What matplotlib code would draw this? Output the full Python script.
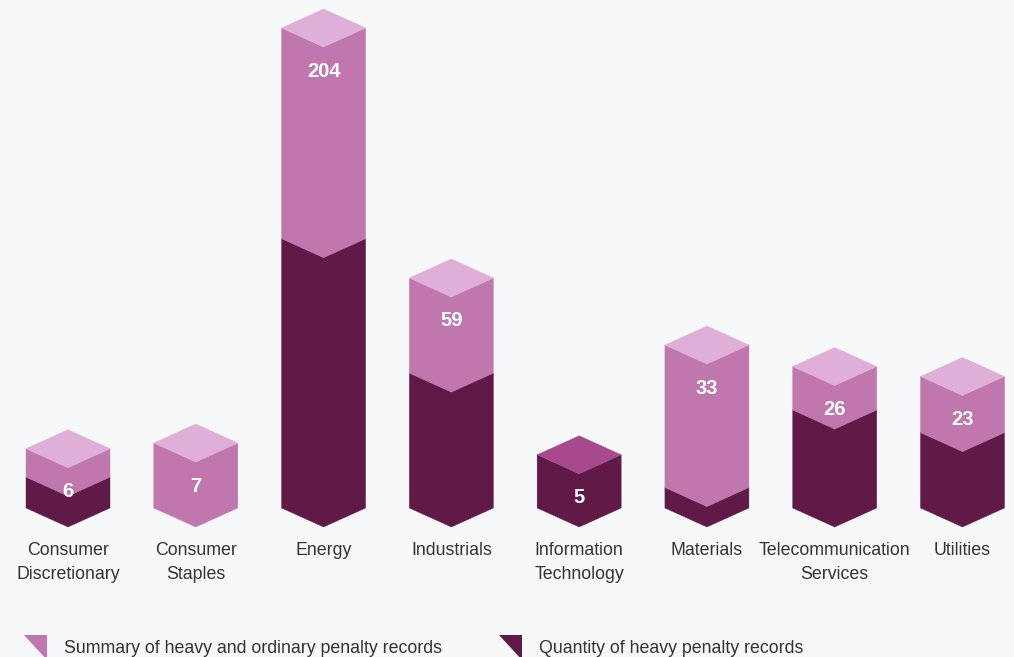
import numpy as np
import matplotlib
matplotlib.use("Agg")
import matplotlib.pyplot as plt
from matplotlib.patches import Polygon
from matplotlib.transforms import IdentityTransform

# ---- data -------------------------------------------------------------
sectors = ["Consumer\nDiscretionary", "Consumer\nStaples", "Energy", "Industrials",
           "Information\nTechnology", "Materials", "Telecommunication\nServices", "Utilities"]
total_records = [6, 7, 204, 59, 5, 33, 26, 23]      # heavy + ordinary
heavy_records = [2, 0, 77, 24, 5, 1, 14, 9]         # heavy only
legend_labels = ["Summary of heavy and ordinary penalty records",
                 "Quantity of heavy penalty records"]

# ---- style ------------------------------------------------------------
BG = "#F7F8FA"
TEXT = "#333333"
LIGHT_FACE, LIGHT_TOP = "#C077AE", "#E0AFD7"
DARK_FACE, DARK_TOP = "#5F1A47", "#A8488D"
plt.rcParams["font.family"] = ["Liberation Sans", "DejaVu Sans"]

W, H, DPI = 1014, 657, 100
HALF_W, SKEW = 42, 19          # prism half width and top-diamond half height (px)
BASE_PX = 130                  # baseline height above figure bottom (px)
TALLEST_PX = 480               # front-edge height of the tallest prism (px)
EXP = 0.593                    # power scale exponent


def forward(v):
    v = np.asarray(v, dtype=float)
    return np.sign(v) * np.abs(v) ** EXP


def inverse(v):
    v = np.asarray(v, dtype=float)
    return np.sign(v) * np.abs(v) ** (1.0 / EXP)


fig = plt.figure(figsize=(W / DPI, H / DPI), dpi=DPI)
fig.patch.set_facecolor(BG)

ax = fig.add_axes([0, BASE_PX / H, 1, (H - BASE_PX) / H])
ax.set_yscale("function", functions=(forward, inverse))
n = len(sectors)
step = (962.5 - 68) / (n - 1)
ax.set_xlim(-68 / step, (W - 68) / step)
ymax = max(total_records) * ((H - BASE_PX) / TALLEST_PX) ** (1.0 / EXP)
ax.set_ylim(0, ymax)
ax.axis("off")

to_px = ax.transData.transform


def add_poly(verts, color):
    ax.add_patch(Polygon(verts, closed=True, facecolor=color, edgecolor=color,
                         linewidth=0.3, transform=IdentityTransform(),
                         clip_on=False, zorder=1))


def prism_side(cx, lo, hi, color):
    add_poly([(cx - HALF_W, lo + SKEW), (cx, lo), (cx + HALF_W, lo + SKEW),
              (cx + HALF_W, hi + SKEW), (cx, hi), (cx - HALF_W, hi + SKEW)], color)


def prism_top(cx, top, color):
    add_poly([(cx, top), (cx + HALF_W, top + SKEW), (cx, top + 2 * SKEW),
              (cx - HALF_W, top + SKEW)], color)


for i, (name, tot, heavy) in enumerate(zip(sectors, total_records, heavy_records)):
    cx, y0 = to_px((i, 0))
    _, yh = to_px((i, heavy))
    _, yt = to_px((i, tot))
    if heavy > 0:
        prism_side(cx, y0, yh, DARK_FACE)
    if tot > heavy:
        prism_side(cx, yh, yt, LIGHT_FACE)
    prism_top(cx, yt, LIGHT_TOP if tot > heavy else DARK_TOP)

    ax.annotate(str(tot), (i, tot), xytext=(0, -24), textcoords="offset pixels",
                ha="center", va="center", color="white", fontsize=14.5,
                fontweight="bold", zorder=5, annotation_clip=False)
    ax.annotate(name, (i, 0), xytext=(0, -15), textcoords="offset pixels",
                ha="center", va="top", color=TEXT, fontsize=12.8,
                linespacing=1.55, annotation_clip=False)

# ---- legend -----------------------------------------------------------
for x0, label, color in [(24, legend_labels[0], LIGHT_FACE),
                         (499, legend_labels[1], DARK_FACE)]:
    tri = [(x0, H - 635), (x0 + 23, H - 635), (x0 + 23, H - 660)]
    fig.add_artist(Polygon(tri, closed=True, facecolor=color, edgecolor="none",
                           transform=IdentityTransform()))
    fig.text((x0 + 40) / W, 4 / H, label, ha="left", va="baseline",
             color=TEXT, fontsize=12.8)

fig.savefig("out.png", dpi=DPI, facecolor=BG)
